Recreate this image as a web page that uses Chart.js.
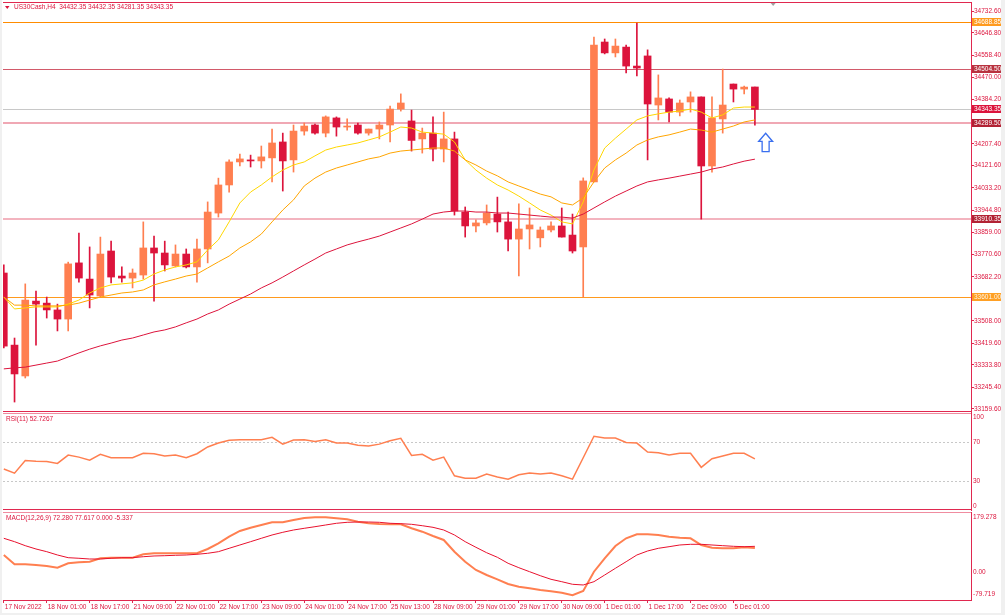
<!DOCTYPE html>
<html>
<head>
<meta charset="utf-8">
<title>US30Cash,H4</title>
<script src="https://cdn.jsdelivr.net/npm/chart.js@4.4.1/dist/chart.umd.min.js"></script>
<style>
  html, body { margin: 0; padding: 0; }
  body { position: relative; width: 1005px; height: 615px; background: #f0f0f0; overflow: hidden; }
  #sheet { position: absolute; left: 2px; top: 0; width: 999px; height: 613px; background: #fff; }
  canvas { position: absolute; left: 0; }
</style>
</head>
<body>
<div id="sheet"></div>
<canvas id="priceChart" width="1001" height="413" style="top:0"></canvas>
<canvas id="rsiChart" width="1001" height="99" style="top:412px"></canvas>
<canvas id="macdChart" width="1001" height="104" style="top:511px"></canvas>
<script>
// H4 bars, 17 Nov 09:00 .. 5 Dec 01:00
var opens = [33697,33412,33290,33586,33578,33551,33515,33737,33673,33606,
  33784,33685,33677,33689,33796,33776,33725,33772,33721,33792,
  33934,34045,34136,34144,34140,34152,34215,34144,34258,34282,
  34250,34310,34274,34282,34250,34266,34282,34345,34298,34227,
  34250,34187,34227,33938,33883,33895,33930,33899,33831,33871,
  33836,33867,33883,33847,33800,34057,34610,34567,34590,34515,
  34555,34361,34385,34333,34373,34393,34120,34306,34444,34424,
  34432.35];
var highs = [33729,33440,33654,33626,33602,33574,33740,33855,33800,33839,
  33823,33721,33713,33899,33843,33823,33808,33792,33831,33978,
  34072,34144,34167,34163,34199,34266,34250,34282,34290,34286,
  34318,34314,34306,34290,34266,34294,34357,34405,34341,34270,
  34314,34333,34254,33958,33907,33966,33997,33938,33970,33954,
  33879,33899,33954,33930,34073,34630,34622,34622,34598,34685,
  34579,34480,34389,34381,34413,34393,34393,34503,34444,34436,
  34432.35];
var lows = [33401,33187,33282,33412,33519,33468,33468,33661,33559,33602,
  33658,33661,33638,33673,33586,33705,33721,33717,33661,33737,
  33918,34017,34120,34116,34112,34057,34021,34096,34242,34246,
  34235,34238,34262,34246,34242,34227,34215,34337,34179,34171,
  34140,34136,33926,33839,33859,33887,33859,33784,33685,33792,
  33800,33859,33839,33776,33602,34057,34563,34551,34488,34476,
  34144,34302,34294,34318,34333,33910,34096,34250,34373,34405,
  34281.35];
var closes = [33408,33298,33590,33574,33551,33515,33733,33677,33610,33772,
  33681,33677,33697,33796,33776,33729,33772,33721,33792,33938,
  34045,34136,34148,34140,34156,34211,34140,34258,34278,34250,
  34314,34274,34278,34250,34266,34282,34345,34369,34221,34250,
  34187,34227,33942,33883,33895,33934,33899,33831,33871,33887,
  33867,33883,33839,33784,34061,34598,34567,34594,34515,34507,
  34365,34389,34333,34369,34393,34120,34310,34361,34424,34432,
  34343.35];

// moving averages
var maFast = [33602,33555,33559,33563,33563,33563,33574,33590,33618,33638,
  33650,33654,33658,33669,33693,33709,33721,33729,33741,33788,
  33828,33899,33974,34017,34045,34077,34104,34124,34136,34160,
  34183,34195,34203,34211,34223,34235,34254,34274,34270,34254,
  34250,34246,34215,34144,34104,34072,34045,34025,34001,33974,
  33946,33926,33899,33891,33978,34104,34191,34230,34266,34302,
  34318,34326,34333,34337,34345,34333,34310,34322,34349,34353,
  34353];
var maMid = [33602,33570,33570,33567,33567,33567,33570,33578,33590,33602,
  33610,33618,33622,33630,33650,33662,33673,33685,33693,33717,
  33741,33764,33796,33820,33851,33899,33946,33986,34041,34072,
  34096,34112,34124,34136,34148,34156,34171,34179,34183,34187,
  34191,34191,34179,34144,34124,34100,34081,34057,34041,34025,
  34009,33998,33974,33966,33994,34057,34112,34144,34171,34203,
  34223,34235,34243,34254,34266,34262,34254,34266,34278,34294,
  34302];
var maSlow = [33318,33322,33325,33333,33341,33349,33365,33381,33396,33409,
  33420,33432,33440,33452,33464,33472,33484,33500,33515,33535,
  33551,33574,33594,33614,33638,33658,33681,33705,33729,33752,
  33776,33792,33808,33820,33831,33843,33859,33875,33891,33910,
  33930,33938,33942,33942,33938,33938,33934,33934,33930,33926,
  33922,33918,33918,33914,33930,33954,33978,34001,34021,34041,
  34057,34065,34072,34080,34088,34096,34108,34116,34128,34139,
  34147];

var rsi = [42.3,38,51,50.3,50,48,56.6,54.5,51.4,57.4,
  53.9,53.9,53.9,58.4,58,55.6,56.6,53.9,58,65,
  69,72,72.4,72.4,72.4,75,67.9,72.1,72.4,70.7,
  72.4,69,69,66.8,66.1,67.9,71.4,73.9,56.3,57.4,
  51.4,54.5,35.3,32.8,32.8,37,34,31.8,36.3,38.1,
  37,38.1,35.3,31.8,53.9,76,74.2,74.2,69.7,69,
  59.8,59.1,56.6,58.4,58.4,44,52.8,55.6,58.4,58.4,
  52.7];

var macdMain = [51.2,22.9,22.9,20.7,17.7,12.5,25.9,29,30.8,41.2,
  43,43,43,53.4,56.4,56.4,56.4,56.4,56.4,69.5,
  86.9,107,124.4,134.5,142.7,150.9,150.9,157.9,164,166.2,
  166.2,163.1,160.1,152.7,147.9,145.7,144.8,144.8,132.6,122.3,
  109.1,97,61.3,30.8,5.5,-9.8,-22.9,-37.2,-45.4,-50.3,
  -55.5,-59.5,-63.7,-71.6,-58.5,0.3,41.2,78.7,102.1,114.3,
  114.3,112.2,107,104,102.1,81.7,73.5,71.6,71.6,74.7,
  72.3];
var macdSignal = [102.1,91.8,79.6,69.5,61.3,51.2,43,41.2,39,39,
  41.2,43,43,46,48.2,49.1,50.3,51.2,53.4,56.4,
  61.3,71.6,81.7,91.8,102.1,112.2,120.4,127.4,132.6,137.5,
  142.7,147.9,150.9,151.8,151.8,150.9,147.9,146.7,144.8,140.5,
  135.6,127.4,112.2,91.8,74.7,58.2,44.2,25.9,12.5,0.3,
  -11.9,-22.9,-30.2,-38.1,-40.2,-30.2,-9.8,10.7,30.8,51.2,
  63.4,71.6,76.5,81.7,83.8,83.8,81.7,79.6,77.7,76.5,
  77.6];

var priceTicks = [34732.60,34646.80,34558.40,34470.00,34384.20,34207.40,34121.60,34033.20,
  33944.80,33859.00,33770.60,33682.20,33508.00,33419.60,33333.80,33245.40,33159.60];
var levels = [34688.85, 34504.50, 34343.35, 34289.50, 33910.35, 33601.00];
var rsiTicks = [100, 70, 30, 0];
var rsiLevels = [70, 30];
var macdTicks = [179.278, 0, -79.719];
var xTickBars = [0,4,8,12,16,20,24,28,32,36,40,44,48,52,56,60,64,68];
var xTickLabels = ['17 Nov 2022','18 Nov 01:00','18 Nov 17:00','21 Nov 09:00','22 Nov 01:00',
  '22 Nov 17:00','23 Nov 09:00','24 Nov 01:00','24 Nov 17:00','25 Nov 13:00','28 Nov 09:00',
  '29 Nov 01:00','29 Nov 17:00','30 Nov 09:00','1 Dec 01:00','1 Dec 17:00','2 Dec 09:00','5 Dec 01:00'];
var arrowAt = [71.0, 34213];   // bar, price
var shiftBar = 71.7;

var FONT = "'Liberation Sans', Arial, sans-serif";
var TXT = '#DC143C';
var AXIS = '#E0284F';
var BULL = '#FF7F50';
var BEAR = '#DC143C';
var X_MIN = -0.075, X_MAX = 90.14;

var levelStyles = [
  {line: '#FF8C00', width: 1, box: '#FF9A1E', text: '#ffffff'},
  {line: '#D25A6A', width: 1, box: '#B8323F', text: '#ffffff'},
  {line: '#C8C8C8', width: 1, box: '#DC143C', text: '#ffffff'},
  {line: '#F0A8B4', width: 2, box: '#B22234', text: '#ffffff'},
  {line: '#F3B4BF', width: 2, box: '#B22234', text: '#ffffff'},
  {line: '#FF9A1E', width: 1, box: '#FFA024', text: '#fff5e6'}
];

var candleColors = closes.map(function (c, i) { return c >= opens[i] ? BULL : BEAR; });

function pts(arr) {
    return arr.map(function (v, i) { return {x: i, y: v}; });
}

function line(arr, color, width) {
    return {type: 'line', data: pts(arr), borderColor: color, borderWidth: width,
        pointRadius: 0, tension: 0, fill: false, order: 1};
}

function hiddenX() {
    return {type: 'linear', min: X_MIN, max: X_MAX, bounds: 'data', offset: false,
        display: false, grid: {offset: false}};
}

function rightAxis(min, max, ticks, label, marks) {
    return {
        type: 'linear', position: 'right', min: min, max: max, bounds: 'data',
        afterBuildTicks: function (s) { s.ticks = ticks.map(function (v) { return {value: v}; }); },
        afterFit: function (s) { s.width = 30; s.paddingTop = 0; s.paddingBottom = 0; },
        ticks: {autoSkip: false, padding: marks ? 0 : 2, color: TXT,
            font: {family: FONT, size: 6.5}, callback: label},
        grid: {drawOnChartArea: false, drawTicks: marks, tickLength: 3, color: AXIS},
        border: {display: true, color: AXIS}
    };
}

function hline(ctx, a, py, color, width, dash) {
    ctx.save();
    ctx.strokeStyle = color;
    ctx.lineWidth = width;
    if (dash) ctx.setLineDash(dash);
    ctx.beginPath();
    ctx.moveTo(a.left, py);
    ctx.lineTo(a.right, py);
    ctx.stroke();
    ctx.restore();
}

var baseOptions = function (pad) {
    return {
        responsive: false, animation: false, events: [],
        layout: {padding: pad},
        plugins: {legend: {display: false}, tooltip: {enabled: false}}
    };
};

// ---------- price panel ----------
var priceDecor = {
    id: 'priceDecor',
    beforeDatasetsDraw: function (chart) {
        var a = chart.chartArea, y = chart.scales.y;
        levels.forEach(function (v, i) {
            var st = levelStyles[i];
            var py = Math.round(y.getPixelForValue(v)) + (st.width % 2 ? 0.5 : 0);
            hline(chart.ctx, a, py, st.line, st.width);
        });
    },
    afterDraw: function (chart) {
        var ctx = chart.ctx, a = chart.chartArea, x = chart.scales.x, y = chart.scales.y;
        hline(ctx, a, a.top + 0.5, AXIS, 1);
        hline(ctx, a, a.bottom - 0.5, AXIS, 1);
        ctx.save();
        ctx.font = '6.5px ' + FONT;
        ctx.textBaseline = 'middle';
        ctx.textAlign = 'left';
        levels.forEach(function (v, i) {
            var st = levelStyles[i], py = Math.round(y.getPixelForValue(v));
            ctx.fillStyle = st.box;
            ctx.fillRect(a.right + 1, py - 4, 29, 8);
            ctx.fillStyle = st.text;
            ctx.fillText(v.toFixed(2), a.right + 3, py);
        });
        // header
        var n = closes.length - 1;
        var header = 'US30Cash,H4  ' + [opens[n], highs[n], lows[n], closes[n]].map(function (v) { return v.toFixed(2); }).join(' ');
        ctx.fillStyle = TXT;
        ctx.beginPath();
        ctx.moveTo(5, 6); ctx.lineTo(9.5, 6); ctx.lineTo(7.25, 9); ctx.closePath();
        ctx.fill();
        ctx.fillText(header, 14, 7.5);
        // shift marker
        var sx = x.getPixelForValue(shiftBar);
        ctx.fillStyle = '#a0a0a0';
        ctx.beginPath();
        ctx.moveTo(sx - 2.5, a.top + 1); ctx.lineTo(sx + 2.5, a.top + 1); ctx.lineTo(sx, a.top + 4); ctx.closePath();
        ctx.fill();
        // arrow
        var ax = x.getPixelForValue(arrowAt[0]), ay = y.getPixelForValue(arrowAt[1]);
        ctx.beginPath();
        ctx.moveTo(ax, ay - 9.2);
        ctx.lineTo(ax + 7, ay - 1);
        ctx.lineTo(ax + 3.5, ay - 1);
        ctx.lineTo(ax + 3.5, ay + 9.2);
        ctx.lineTo(ax - 3.5, ay + 9.2);
        ctx.lineTo(ax - 3.5, ay - 1);
        ctx.lineTo(ax - 7, ay - 1);
        ctx.closePath();
        ctx.fillStyle = '#ffffff';
        ctx.fill();
        ctx.strokeStyle = '#3A6FEF';
        ctx.lineWidth = 1.3;
        ctx.stroke();
        ctx.restore();
    }
};

new Chart(document.getElementById('priceChart'), {
    type: 'bar',
    data: {
        datasets: [
            {
                data: opens.map(function (o, i) { return {x: i, y: [lows[i], highs[i]]}; }),
                backgroundColor: candleColors, borderWidth: 0,
                barThickness: 1, grouped: false, order: 3
            },
            {
                data: opens.map(function (o, i) { return {x: i, y: [o, closes[i]]}; }),
                backgroundColor: candleColors, borderWidth: 0,
                barThickness: 7, minBarLength: 1, grouped: false, order: 2
            },
            line(maSlow, '#DC143C', 1),
            line(maMid, '#FFA500', 1),
            line(maFast, '#FFD700', 1)
        ]
    },
    options: Object.assign(baseOptions({left: 3, top: 2, bottom: 1, right: 0}), {
        scales: {
            x: hiddenX(),
            y: rightAxis(33147.6, 34768.2, priceTicks, function (v) { return v.toFixed(2); }, true)
        }
    }),
    plugins: [priceDecor]
});

// ---------- RSI panel ----------
var rsiDecor = {
    id: 'rsiDecor',
    beforeDatasetsDraw: function (chart) {
        var a = chart.chartArea, y = chart.scales.y;
        rsiLevels.forEach(function (v) {
            hline(chart.ctx, a, Math.round(y.getPixelForValue(v)) + 0.5, '#C8C8C8', 1, [2, 2]);
        });
    },
    afterDraw: function (chart) {
        var ctx = chart.ctx, a = chart.chartArea;
        hline(ctx, a, a.top + 0.5, '#F08CA0', 1);
        hline(ctx, a, a.bottom - 0.5, AXIS, 1);
        ctx.save();
        ctx.font = '6.5px ' + FONT;
        ctx.textBaseline = 'middle';
        ctx.fillStyle = TXT;
        ctx.fillText('RSI(11) 52.7267', 6, a.top + 6);
        ctx.restore();
    }
};

new Chart(document.getElementById('rsiChart'), {
    type: 'line',
    data: {datasets: [line(rsi, '#FF7F50', 1.5)]},
    options: Object.assign(baseOptions({left: 3, top: 1, bottom: 1, right: 0}), {
        scales: {
            x: hiddenX(),
            y: rightAxis(0, 100, rsiTicks, function (v) {
                if (v === 100) return ['', '100'];
                if (v === 0) return ['0', ''];
                return String(v);
            }, false)
        }
    }),
    plugins: [rsiDecor]
});

// ---------- MACD panel ----------
var macdDecor = {
    id: 'macdDecor',
    afterDraw: function (chart) {
        var ctx = chart.ctx, a = chart.chartArea;
        hline(ctx, a, a.top + 0.5, '#F08CA0', 1);
        ctx.save();
        ctx.font = '6.5px ' + FONT;
        ctx.textBaseline = 'middle';
        ctx.fillStyle = TXT;
        ctx.fillText('MACD(12,26,9) 72.280 77.617 0.000 -5.337', 6, a.top + 6.5);
        ctx.restore();
    }
};

new Chart(document.getElementById('macdChart'), {
    type: 'line',
    data: {
        datasets: [
            line(macdSignal, '#E8112D', 1),
            line(macdMain, '#FF7F50', 2)
        ]
    },
    options: Object.assign(baseOptions({left: 3, top: 1, bottom: 0, right: 0}), {
        scales: {
            x: {
                type: 'linear', min: X_MIN, max: X_MAX, bounds: 'data', offset: false, position: 'bottom',
                afterBuildTicks: function (s) { s.ticks = xTickBars.map(function (v) { return {value: v}; }); },
                afterFit: function (s) { s.height = 15; s.paddingLeft = 0; s.paddingRight = 0; },
                ticks: {autoSkip: false, maxRotation: 0, minRotation: 0, align: 'start', labelOffset: 1,
                    padding: 0, color: TXT, font: {family: FONT, size: 6.5},
                    callback: function (v, i) { return xTickLabels[i]; }},
                grid: {drawOnChartArea: false, drawTicks: true, tickLength: 3, color: AXIS, offset: false},
                border: {display: true, color: AXIS}
            },
            y: rightAxis(-86, 182.3, macdTicks, function (v) {
                if (v === 179.278) return ['', '179.278'];
                if (v === -79.719) return ['-79.719', ''];
                return v.toFixed(2);
            }, false)
        }
    }),
    plugins: [macdDecor]
});
</script>
</body>
</html>
